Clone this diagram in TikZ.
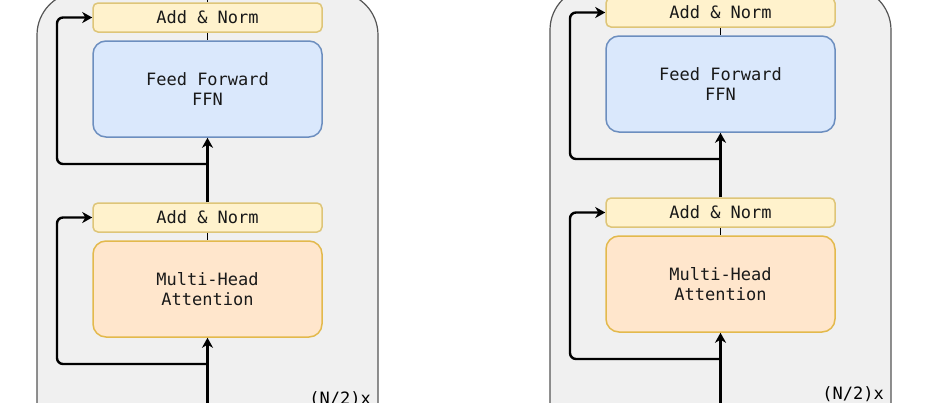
\documentclass[tikz,border=0pt]{standalone}
\usepackage{fontspec}
\setmonofont{DejaVu Sans Mono}
\usetikzlibrary{arrows.meta,calc}
\definecolor{panelfill}{HTML}{F0F0F0}
\definecolor{paneldraw}{HTML}{555555}
\definecolor{yfill}{HTML}{FFF2CC}
\definecolor{ydraw}{HTML}{D6B656}
\definecolor{bfill}{HTML}{DAE8FC}
\definecolor{bdraw}{HTML}{6C8EBF}
\definecolor{ofill}{HTML}{FFE6CC}
\definecolor{odraw}{HTML}{D79B00}
\tikzset{
  x=1pt, y=-1pt,
  panel/.style={fill=panelfill, draw=paneldraw, line width=1.2pt, rounded corners=43pt},
  box/.style={rounded corners=5pt, line width=1.5pt, minimum width=229pt,
    align=center, inner sep=0pt, text=black!90, font=\ttfamily\fontsize{17}{20}\selectfont},
  normbox/.style={box, fill=yfill, draw=ydraw!80, minimum height=29pt},
  ffnbox/.style={box, fill=bfill, draw=bdraw, minimum height=96pt, rounded corners=13pt},
  mhabox/.style={box, fill=ofill, draw=odraw!70, minimum height=96pt, rounded corners=13pt},
  arr/.style={-{Stealth[length=10pt,width=11pt,inset=3pt]}, line width=2.4pt, black},
  res/.style={arr, rounded corners=6pt},
  thin/.style={line width=1.3pt, black},
  rep/.style={font=\ttfamily\fontsize{17}{20}\selectfont, inner sep=0pt, anchor=base east}
}
\begin{document}
\begin{tikzpicture}
\useasboundingbox (0,0) rectangle (946,402);
\clip (0,0) rectangle (946,402);
\fill[white] (0,0) rectangle (946,402);
\foreach \dx/\dy/\p in {0/0/L, 513/-5/R} {
  \begin{scope}[shift={(\dx,\dy)}]
    \draw[panel] (37,-8) rectangle (378,460);
    \node[normbox] (an1\p) at (207.5,17.5) {Add \& Norm};
    \node[ffnbox] (ffn\p) at (207.5,89) {Feed Forward\\FFN};
    \node[normbox] (an2\p) at (207.5,217.5) {Add \& Norm};
    \node[mhabox] (mha\p) at (207.5,289) {Multi-Head\\Attention};
    \node[rep] (rep\p) at (371,404) {(N/2)x};
    \coordinate (top\p) at (207.5,-20);
    \coordinate (in\p) at (207.5,420);
    \coordinate (s1\p) at (207.5,164);
    \coordinate (c1\p) at (57,164);
    \coordinate (s2\p) at (207.5,364);
    \coordinate (c2\p) at (57,364);
    \draw[thin] (an1\p.north) -- (top\p);
    \draw[thin] (an1\p.south) -- (ffn\p.north);
    \draw[thin] (an2\p.south) -- (mha\p.north);
    \draw[arr] (an2\p.north) -- (ffn\p.south);
    \draw[arr] (in\p) -- (mha\p.south);
    \draw[res] (s1\p) -- (c1\p) |- (an1\p.west);
    \draw[res] (s2\p) -- (c2\p) |- (an2\p.west);
  \end{scope}
}
\end{tikzpicture}
\end{document}
